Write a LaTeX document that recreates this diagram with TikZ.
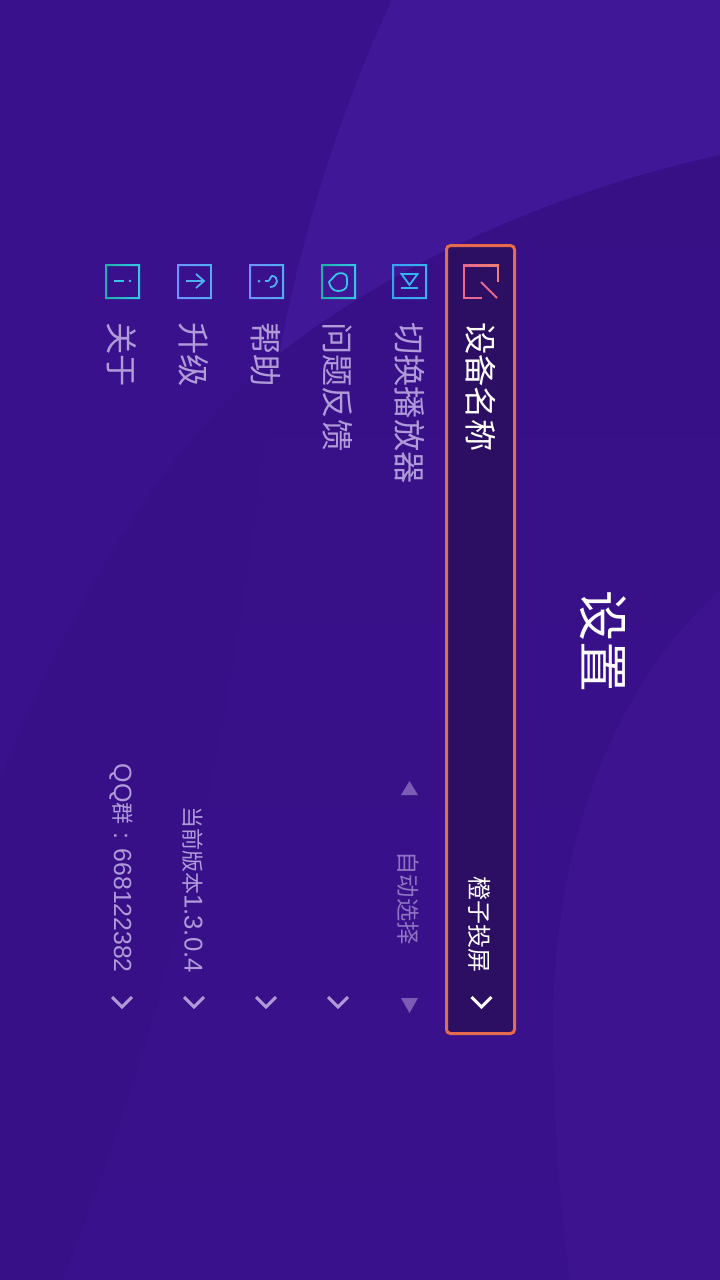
\documentclass[tikz,border=0pt]{standalone}
\usepackage{fontspec}
\setmainfont{Noto Sans CJK SC}
\newfontfamily\cjk{Noto Sans CJK SC}
\newfontfamily\latinf{Liberation Sans}
\definecolor{bgbase}{HTML}{39118C}
\definecolor{bgdeep}{HTML}{371088}
\definecolor{bgtop}{HTML}{401796}
\definecolor{bgmidA}{HTML}{371086}
\definecolor{bgmidB}{HTML}{39118C}
\definecolor{bgright}{HTML}{3D138F}
\definecolor{panel}{HTML}{2C0E63}
\definecolor{panelline}{HTML}{E66B4C}
\definecolor{muted}{HTML}{B09BD8}
\definecolor{dimmed}{HTML}{8E74C2}
\definecolor{tri}{HTML}{7A5CB5}
\definecolor{pinkA}{HTML}{E8688F}
\definecolor{pinkB}{HTML}{F0806F}
\definecolor{skyA}{HTML}{34B4F5}
\definecolor{skyB}{HTML}{3CA0F0}
\definecolor{tealA}{HTML}{1FB0A8}
\definecolor{tealB}{HTML}{35C8E5}
\definecolor{blueA}{HTML}{6F90FF}
\definecolor{blueB}{HTML}{4FB0F0}
\newcommand{\gring}[4]{%
  \shade[even odd rule,left color=#3,right color=#4]
    (#1,#2) rectangle ++(35,35) (#1+2,#2+2) rectangle ++(31,31);}
\def\bandpath{(720,155) .. controls (560,190) and (400,260) .. (283,351) .. controls (160,447) and (65,615) .. (0,779) -- (0,1280) -- (720,1280) -- cycle}
\tikzset{
 x=1pt,y=-1pt,
 lbl/.style={rotate=-90,inner sep=0pt,anchor=west,font=\cjk\fontsize{32.3}{32}\selectfont,text=muted},
 val/.style={rotate=-90,inner sep=0pt,anchor=east,text=muted},
 chev/.style={draw=muted,line width=3pt,fill=none,line join=miter},
 ic/.style={line width=1.8pt,fill=none},
 tria/.style={fill=tri,draw=none},
}
\begin{document}
\begin{tikzpicture}
\useasboundingbox (0,0) rectangle (720,1280);
\fill[bgbase] (0,0) rectangle (720,1280);
% below the band curve
\fill[bgdeep] \bandpath;
% right of the light curve
\begin{scope}
\clip (392,0) .. controls (340,110) and (295,250) .. (273,392) .. controls (245,600) and (215,900) .. (63,1280) -- (720,1280) -- (720,0) -- cycle;
\fill[bgtop] (0,0) rectangle (720,1280);
\shade[top color=bgmidA,bottom color=bgmidB] \bandpath;
\end{scope}
% lower right
\fill[bgright] (720,590) .. controls (620,680) and (555,830) .. (553,1020) .. controls (553,1120) and (560,1210) .. (570,1280) -- (720,1280) -- cycle;
% panel
\node[draw=panelline,line width=3pt,fill=panel,rounded corners=4pt,minimum width=68pt,minimum height=788pt,inner sep=0pt] (panelbox) at (480.5,639.5) {};
% title
\node[rotate=-90,inner sep=0pt,font=\cjk\fontsize{51}{51}\selectfont,text=white] (title) at (603,641) {设置};
% labels
\node[lbl,text=white] (l1) at (481,322) {设备名称};
\node[lbl] (l2) at (410,322) {切换播放器};
\node[lbl] (l3) at (338,322) {问题反馈};
\node[lbl] (l4) at (266,322) {帮助};
\node[lbl] (l6) at (194,322) {升级};
\node[lbl] (l5) at (122,322) {关于};
% values
\node[val,text=white,font=\cjk\fontsize{24}{24}\selectfont] (v1) at (480,973) {橙子投屏};
\node[val,text=dimmed,font=\cjk\fontsize{23.3}{23}\selectfont] (v2) at (408,945) {自动选择};
\node[val,font=\cjk\fontsize{22}{22}\selectfont] (v3) at (193,973) {当前版本{\latinf\fontsize{25.7}{25}\selectfont 1.3.0.4}};
\node[val,font=\cjk\fontsize{22}{22}\selectfont] (v4) at (121,973) {{\latinf\fontsize{25}{25}\selectfont QQ}群\hspace{8pt}{\latinf\fontsize{25}{25}\selectfont :}\hspace{9pt}{\latinf\fontsize{24.8}{25}\selectfont 668122382}};
% chevrons
\draw[chev,draw=white] (471.5,997) -- (481.5,1007) -- (491.5,997);
\draw[chev] (328,997) -- (338,1007) -- (348,997);
\draw[chev] (256,997) -- (266,1007) -- (276,997);
\draw[chev] (184,997) -- (194,1007) -- (204,997);
\draw[chev] (112,997) -- (122,1007) -- (132,997);
% triangles
\fill[tria] (409.5,781) -- (418,795) -- (401,795) -- cycle;
\fill[tria] (409.5,1013) -- (418,998) -- (401,998) -- cycle;
% icon frames
\gring{392}{264}{skyB}{skyA}
\gring{321}{264}{tealA}{tealB}
\gring{249}{264}{blueA}{blueB}
\gring{177}{264}{blueA}{blueB}
\gring{105}{264}{tealA}{tealB}
\begin{scope}[ic]
% device icon
\draw[pinkA,line cap=rect] (464,298) -- (481,298);
\draw[pinkA] (464,298) -- (464,265);
\shade[left color=pinkA,right color=pinkB] (463,264) rectangle (499,266);
\draw[pinkB,line cap=butt] (498,265) -- (498,282);
\draw[pinkA,line width=2pt] (481,282) -- (497,298);
% player icon
\draw[skyA] (401.5,274) -- (417.5,274) -- (409.5,285) -- cycle;
\draw[skyA] (401,288) -- (418,288);
% feedback icon
\draw[tealB,line join=round] (329,282) -- (336,274.5) .. controls (339,272.5) and (347,271.5) .. (347,279) -- (347,284) .. controls (347,289) and (343,291) .. (338,291) .. controls (333,291) and (330,287) .. (329,282) -- cycle;
% help icon
\fill[blueB] (259,281) circle (1.5);
\draw[blueB] (265,281) -- (268,281) .. controls (270,281) and (270.5,276) .. (272,276) .. controls (279,276) and (279,287) .. (270,287);
% upgrade icon
\draw[blueB] (186,281) -- (204,281);
\draw[blueB] (196,274) -- (204,281) -- (196,288);
% about icon
\draw[tealB] (114,281) -- (124,281);
\fill[tealB] (130,281) circle (1.4);
\end{scope}
\end{tikzpicture}
\end{document}
